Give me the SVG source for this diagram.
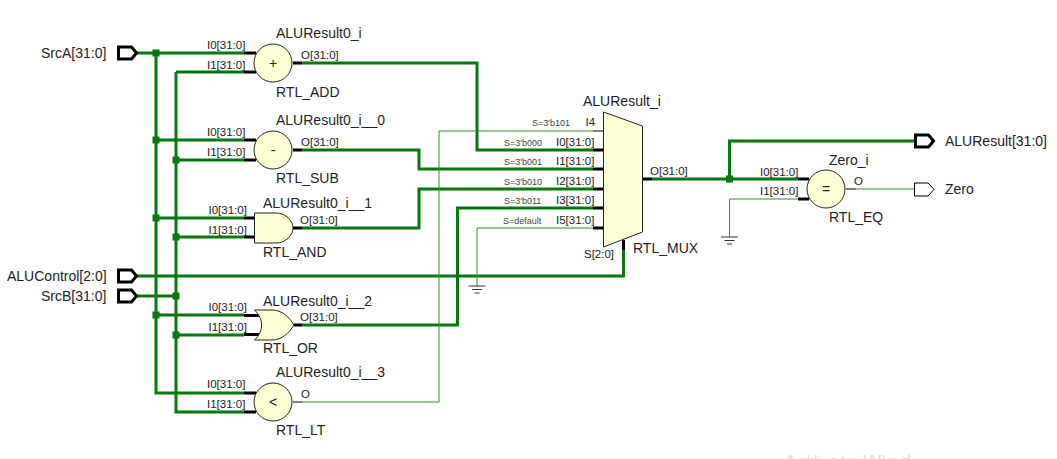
<svg xmlns="http://www.w3.org/2000/svg" width="1057" height="459" viewBox="0 0 1057 459">
<style>
text{font-family:"Liberation Sans",Arial,sans-serif;font-size:14px;fill:#222}
.p{font-size:11.5px}
.s{font-size:9px;fill:#444}
.y{font-size:14px;text-anchor:middle}
.b{fill:none;stroke:#0a760f;stroke-width:3}
.t{fill:none;stroke:#2a922a;stroke-width:1}
.k{fill:none;stroke:#000;stroke-width:3}
.n{fill:none;stroke:#000;stroke-width:1}
.g{fill:#ffffd6;stroke:#222;stroke-width:1}
.j{fill:#0a760f}
.port{fill:#fff;stroke:#000;stroke-width:3}
.port2{fill:#fff;stroke:#000;stroke-width:1}
.w{fill:none;stroke:#333;stroke-width:1}
</style>
<defs>
<rect id="jn" class="j" x="-3.5" y="-3.5" width="7" height="7"/>
<path id="gnd" class="w" d="M-8.500 0H8.500M-5 3.500H5M-2.500 7H2.500"/>
<polygon id="pt" class="port" points="0,0 13,0 18,6 13,12 0,12"/>
</defs>

<g id="connectors">
<path class="b" d="M136 53H244M156 53V393H244M156 140H244M156 218H244M156 315H244"/>
<path class="b" d="M136 296H176M176 72V412H244M176 72H244M176 160H244M176 237H244M176 335H244"/>
<path class="b" d="M136 276H623.500V250"/>
<path class="b" d="M302 63H477V150H593"/>
<path class="b" d="M302 150H419V169H593"/>
<path class="b" d="M302 228H419V189H593"/>
<path class="b" d="M302 325H457.500V208H593"/>
<path class="b" d="M652 179H798M729.500 179V141H914"/>
<path class="t" d="M302 402H439V131H593"/>
<path class="t" d="M593 228H477V286"/>
<path class="t" d="M798 199H729.500V237"/>
<path class="t" d="M856 189H914"/>
<use href="#jn" x="156" y="53"/><use href="#jn" x="156" y="140"/><use href="#jn" x="156" y="218"/><use href="#jn" x="156" y="315"/>
<use href="#jn" x="176" y="160"/><use href="#jn" x="176" y="237"/><use href="#jn" x="176" y="296"/><use href="#jn" x="176" y="335"/>
<use href="#jn" x="729.500" y="179"/>
<use href="#gnd" x="477" y="286"/>
<use href="#gnd" x="729.500" y="237"/>
</g>

<g id="SrcA"><use href="#pt" x="118.500" y="47"/><text x="41" y="58">SrcA[31:0]</text></g>
<g id="ALUControl"><use href="#pt" x="118.500" y="270"/><text x="7" y="281">ALUControl[2:0]</text></g>
<g id="SrcB"><use href="#pt" x="118.500" y="290"/><text x="41" y="301">SrcB[31:0]</text></g>
<g id="ALUResult"><use href="#pt" x="915.500" y="135"/><text x="945" y="146">ALUResult[31:0]</text></g>
<g id="Zero"><polygon class="port2" points="914.500,183 928,183 934,189.500 928,196 914.500,196"/><text x="945" y="194">Zero</text></g>

<g id="ALUResult0_i">
<path class="k" d="M244 53H256M244 72H256M293 63H302"/>
<circle class="g" cx="273" cy="63" r="19"/>
<text class="y" x="273" y="68">+</text>
<text x="276" y="38">ALUResult0_i</text><text x="276" y="97">RTL_ADD</text>
<text class="p" x="207" y="49">I0[31:0]</text><text class="p" x="207" y="69">I1[31:0]</text><text class="p" x="301" y="59">O[31:0]</text>
</g>
<g id="ALUResult0_i__0">
<path class="k" d="M244 140H256M244 160H256M293 150H302"/>
<circle class="g" cx="273" cy="150" r="19"/>
<text class="y" x="273" y="155">-</text>
<text x="276" y="125">ALUResult0_i__0</text><text x="276" y="183">RTL_SUB</text>
<text class="p" x="207" y="136">I0[31:0]</text><text class="p" x="207" y="156">I1[31:0]</text><text class="p" x="301" y="146">O[31:0]</text>
</g>
<g id="ALUResult0_i__1">
<path class="k" d="M244 218H256M244 237H256M293 228H302"/>
<path class="g" d="M254.500 213H276C286 213 293 221 293 228C293 235 286 243 276 243H254.500Z"/>
<text x="263" y="208">ALUResult0_i__1</text><text x="263" y="257">RTL_AND</text>
<text class="p" x="208.500" y="214">I0[31:0]</text><text class="p" x="208.500" y="234">I1[31:0]</text><text class="p" x="300" y="224">O[31:0]</text>
</g>
<g id="ALUResult0_i__2">
<path class="k" d="M244 315.500H259M244 334.500H259M294 325H302"/>
<path class="g" d="M254.500 310H272C282 310 289 317 294 325C289 333 282 340 272 340H254.500C264 331 264 319 254.500 310Z"/>
<text x="263" y="306">ALUResult0_i__2</text><text x="263" y="353">RTL_OR</text>
<text class="p" x="208.500" y="311">I0[31:0]</text><text class="p" x="208.500" y="331">I1[31:0]</text><text class="p" x="300" y="321">O[31:0]</text>
</g>
<g id="ALUResult0_i__3">
<path class="k" d="M244 393H256M244 412H256"/><path class="n" d="M293 402H302"/>
<circle class="g" cx="273" cy="402" r="19"/>
<text class="y" x="273" y="407">&lt;</text>
<text x="276" y="377">ALUResult0_i__3</text><text x="276" y="435">RTL_LT</text>
<text class="p" x="207" y="388">I0[31:0]</text><text class="p" x="207" y="408">I1[31:0]</text><text class="p" x="301" y="398">O</text>
</g>
<g id="ALUResult_i">
<path class="n" d="M593 131H603"/>
<path class="k" d="M593 150H603M593 169H603M593 189H603M593 208H603M593 228H603M642 179H652M623.500 240V250"/>
<polygon class="g" points="603.500,112 642.500,126 642.500,232 603.500,247"/>
<text x="583" y="106">ALUResult_i</text><text x="633" y="253">RTL_MUX</text>
<text class="p" x="585.500" y="126">I4</text>
<text class="p" x="556" y="146">I0[31:0]</text><text class="p" x="556" y="165">I1[31:0]</text><text class="p" x="556" y="185">I2[31:0]</text><text class="p" x="556" y="204">I3[31:0]</text><text class="p" x="556" y="224">I5[31:0]</text>
<text class="p" x="584" y="258">S[2:0]</text><text class="p" x="650" y="175">O[31:0]</text>
<text class="s" x="532" y="126">S=3'b101</text><text class="s" x="504" y="146">S=3'b000</text><text class="s" x="504" y="165">S=3'b001</text><text class="s" x="504" y="185">S=3'b010</text><text class="s" x="504" y="204">S=3'b011</text><text class="s" x="503" y="224">S=default</text>
</g>
<g id="Zero_i">
<path class="k" d="M798 179H809M798 199H809"/><path class="n" d="M846 189H856"/>
<circle class="g" cx="826" cy="189" r="19"/>
<text class="y" x="826" y="194">=</text>
<text x="829" y="165">Zero_i</text><text x="829" y="222">RTL_EQ</text>
<text class="p" x="760" y="176">I0[31:0]</text><text class="p" x="760" y="195">I1[31:0]</text><text class="p" x="854" y="185">O</text>
</g>
<text x="784" y="469" style="font-family:'Open Sans',sans-serif;font-size:20px;fill:#dcdcdc">Activate Wind</text>
</svg>
